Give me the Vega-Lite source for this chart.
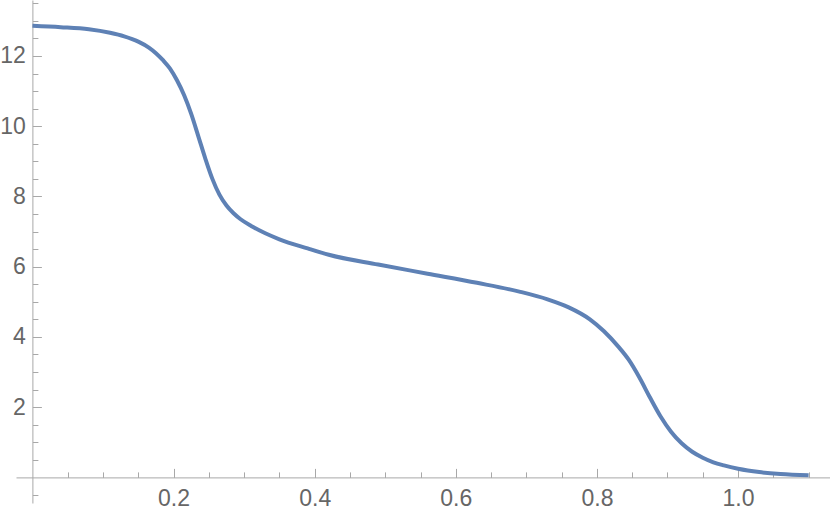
{
  "$schema": "https://vega.github.io/schema/vega-lite/v6.json",
  "width": 814,
  "height": 503,
  "autosize": {"type": "none"},
  "padding": {"left": 16, "top": 0, "right": 0, "bottom": 14},
  "background": "white",
  "config": {"view": {"stroke": null}},
  "data": {
    "values": [
      {"x": 0, "y": 12.86}, {"x": 0.04, "y": 12.82}, {"x": 0.08, "y": 12.76}, {"x": 0.11, "y": 12.66},
      {"x": 0.13, "y": 12.56}, {"x": 0.15, "y": 12.41}, {"x": 0.165, "y": 12.24}, {"x": 0.175, "y": 12.08},
      {"x": 0.185, "y": 11.88}, {"x": 0.195, "y": 11.64}, {"x": 0.205, "y": 11.3}, {"x": 0.215, "y": 10.88},
      {"x": 0.225, "y": 10.35}, {"x": 0.235, "y": 9.72}, {"x": 0.245, "y": 9.08}, {"x": 0.255, "y": 8.5},
      {"x": 0.265, "y": 8.05}, {"x": 0.275, "y": 7.74}, {"x": 0.285, "y": 7.52}, {"x": 0.295, "y": 7.35},
      {"x": 0.31, "y": 7.16}, {"x": 0.33, "y": 6.95}, {"x": 0.35, "y": 6.78}, {"x": 0.39, "y": 6.52},
      {"x": 0.42, "y": 6.34}, {"x": 0.49, "y": 6.06}, {"x": 0.56, "y": 5.8}, {"x": 0.63, "y": 5.54},
      {"x": 0.69, "y": 5.29}, {"x": 0.73, "y": 5.07}, {"x": 0.76, "y": 4.84}, {"x": 0.79, "y": 4.5},
      {"x": 0.81, "y": 4.16}, {"x": 0.83, "y": 3.73}, {"x": 0.845, "y": 3.35}, {"x": 0.86, "y": 2.85},
      {"x": 0.875, "y": 2.28}, {"x": 0.89, "y": 1.74}, {"x": 0.905, "y": 1.3}, {"x": 0.92, "y": 0.97},
      {"x": 0.935, "y": 0.73}, {"x": 0.95, "y": 0.56}, {"x": 0.965, "y": 0.43}, {"x": 0.98, "y": 0.34},
      {"x": 1.0, "y": 0.245}, {"x": 1.03, "y": 0.15}, {"x": 1.06, "y": 0.095}, {"x": 1.1, "y": 0.06}
    ]
  },
  "mark": {"type": "line", "color": "#5e81b5", "strokeWidth": 4, "interpolate": "monotone", "clip": false},
  "encoding": {
    "x": {
      "field": "x", "type": "quantitative",
      "scale": {"domain": [-0.0233, 1.1303], "nice": false, "zero": false},
      "axis": {
        "title": null, "orient": "bottom", "offset": -25.6, "grid": false,
        "values": [0.05, 0.1, 0.15, 0.2, 0.25, 0.3, 0.35, 0.4, 0.45, 0.5, 0.55, 0.6, 0.65, 0.7, 0.75, 0.8, 0.85, 0.9, 0.95, 1.0, 1.05, 1.1],
        "labelExpr": "abs(datum.value*5 - round(datum.value*5)) < 0.000001 ? format(datum.value, '.1f') : ''",
        "domainColor": "#a8a8a8", "domainWidth": 1,
        "tickColor": "#a8a8a8", "tickWidth": 1,
        "tickSize": {"condition": {"test": "abs(datum.value*5 - round(datum.value*5)) < 0.000001", "value": -9}, "value": -5.5},
        "labelPadding": {"condition": {"test": "abs(datum.value*5 - round(datum.value*5)) < 0.000001", "value": 19}, "value": 16},
        "labelFont": "Liberation Sans", "labelFontSize": 23, "labelColor": "#666666",
        "labelOverlap": false, "labelFlush": false, "labelBound": false
      }
    },
    "y": {
      "field": "y", "type": "quantitative",
      "scale": {"domain": [-0.73, 13.594], "nice": false, "zero": false},
      "axis": {
        "title": null, "orient": "left", "offset": -16.4, "grid": false,
        "values": [-0.5, 0.5, 1, 1.5, 2, 2.5, 3, 3.5, 4, 4.5, 5, 5.5, 6, 6.5, 7, 7.5, 8, 8.5, 9, 9.5, 10, 10.5, 11, 11.5, 12, 12.5, 13, 13.5],
        "labelExpr": "datum.value % 2 == 0 ? format(datum.value, 'd') : ''",
        "domainColor": "#a8a8a8", "domainWidth": 1,
        "tickColor": "#a8a8a8", "tickWidth": 1,
        "tickSize": {"condition": {"test": "datum.value % 2 == 0", "value": -9}, "value": -5.5},
        "labelPadding": {"condition": {"test": "datum.value % 2 == 0", "value": 16}, "value": 12},
        "labelFont": "Liberation Sans", "labelFontSize": 23, "labelColor": "#666666",
        "labelOverlap": false, "labelFlush": false, "labelBound": false
      }
    }
  }
}
